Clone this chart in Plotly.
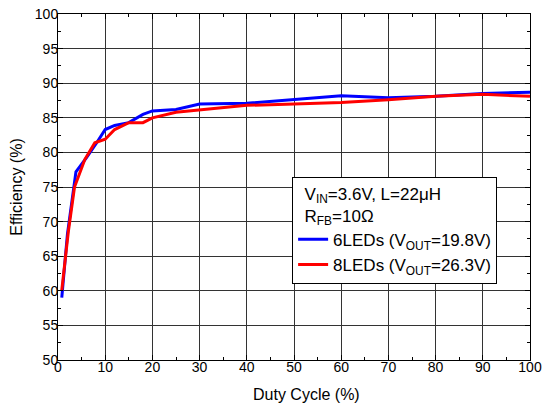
import plotly.graph_objects as go

# 6 LEDs (VOUT=19.8V)
duty_6 = [0.8, 2, 3.8, 6, 8.2, 10, 12, 15, 18, 20, 25, 30, 40, 50, 60, 70, 80, 90, 100]
eff_6 = [59.0, 68.2, 77.2, 79.2, 81.4, 83.3, 83.9, 84.3, 85.5, 86.0, 86.2, 87.0, 87.1, 87.6, 88.2, 87.9, 88.1, 88.5, 88.7]

# 8 LEDs (VOUT=26.3V)
duty_8 = [0.8, 2.2, 3.5, 5.7, 7.8, 10, 12, 15, 18, 20, 25, 30, 40, 50, 60, 70, 80, 90, 100]
eff_8 = [60.1, 68.6, 75.0, 79.0, 81.4, 81.9, 83.3, 84.3, 84.3, 85.0, 85.8, 86.1, 86.8, 87.0, 87.2, 87.6, 88.1, 88.4, 88.1]

font_family = "Arial, Liberation Sans, sans-serif"

fig = go.Figure()

fig.add_trace(go.Scatter(
    x=duty_6, y=eff_6, mode="lines",
    name="6LEDs (V<sub>OUT</sub>=19.8V)",
    line=dict(color="#0000ff", width=3),
))
fig.add_trace(go.Scatter(
    x=duty_8, y=eff_8, mode="lines",
    name="8LEDs (V<sub>OUT</sub>=26.3V)",
    line=dict(color="#ff0000", width=3),
))

axis_common = dict(
    showline=True, linecolor="black", linewidth=1, mirror="ticks",
    ticks="inside", ticklen=5, tickcolor="black",
    showgrid=True, gridcolor="#333333", gridwidth=1,
    zeroline=False, automargin=False, ticklabeloverflow="allow",
    tickfont=dict(family=font_family, size=14, color="black"),
)

fig.update_xaxes(
    range=[0, 100], dtick=10, tick0=0,
    minor=dict(ticks="inside", ticklen=3, dtick=5, tickcolor="black", showgrid=False),
    ticklabelstandoff=-6,
    **axis_common,
)
fig.update_yaxes(
    range=[50, 100], dtick=5, tick0=50,
    minor=dict(ticks="inside", ticklen=3, dtick=2.5, tickcolor="black", showgrid=False),
    ticklabelstandoff=-4,
    title=dict(text="Efficiency (%)", font=dict(family=font_family, size=16, color="black"), standoff=8),
    **axis_common,
)

# x title sits a little right of centre in the original
fig.add_annotation(
    text="Duty Cycle (%)", xref="paper", yref="paper",
    x=0.527, y=-0.1, xanchor="center", yanchor="middle",
    showarrow=False, font=dict(family=font_family, size=16, color="black"),
)

fig.update_layout(
    width=542, height=408,
    margin=dict(l=58, r=12, t=14, b=48),
    plot_bgcolor="white", paper_bgcolor="white",
    font=dict(family=font_family, color="black"),
    legend=dict(
        x=0.496, y=0.53, xanchor="left", yanchor="top",
        bgcolor="white", bordercolor="black", borderwidth=1,
        font=dict(family=font_family, size=17, color="black"),
        title=dict(
            text="  V<sub>IN</sub>=3.6V, L=22\u03bcH<br>  R<sub>FB</sub>=10\u03a9",
            font=dict(family=font_family, size=17, color="black"),
            side="top",
        ),
        tracegroupgap=0,
    ),
)

# drop the default 8px page margin so the figure sits at the window's corner
fig.write_html(
    "out.html",
    config={"displayModeBar": False},
    post_script="document.body.style.margin='0';document.documentElement.style.overflow='hidden';",
)
